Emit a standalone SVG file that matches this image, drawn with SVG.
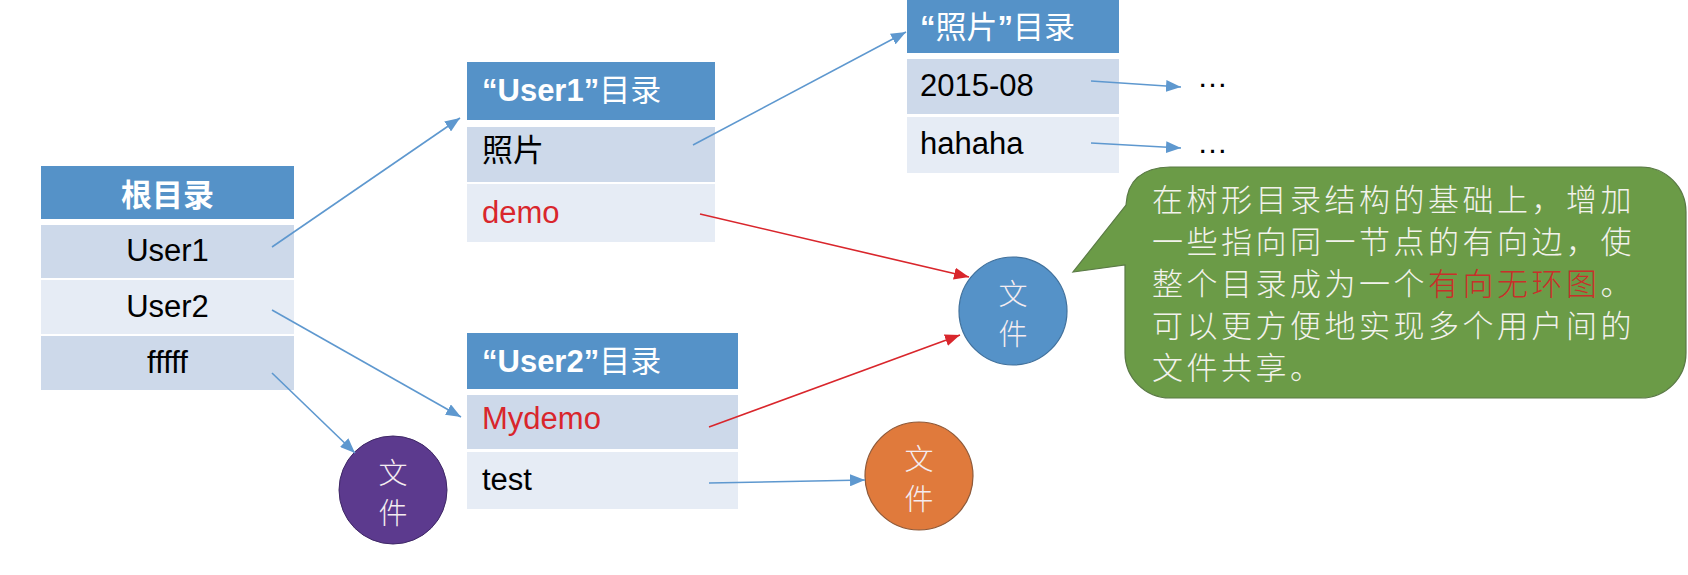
<svg xmlns="http://www.w3.org/2000/svg" width="1688" height="575" viewBox="0 0 1688 575">
<style>
.hd{fill:#5592C8}
.rd{fill:#CDD9EA}
.rl{fill:#E6ECF5}
.ht{font-family:"Liberation Sans","Noto Sans CJK SC",sans-serif;font-weight:bold;font-size:31px;fill:#FFFFFF}
.cj{font-family:"Noto Sans CJK SC",sans-serif;font-weight:normal}
.rt{font-family:"Liberation Sans","Noto Sans CJK SC",sans-serif;font-size:31px;fill:#000000}
.red{fill:#D9262C}
.ct{font-family:"Noto Sans CJK SC",sans-serif;font-size:29px;fill:#F4ECF0;text-anchor:middle;font-weight:300}
.bl{stroke:#5E98CF;stroke-width:1.6;fill:none}
.rl2{stroke:#D9262C;stroke-width:1.6;fill:none}
.callt{font-family:"Noto Sans CJK SC",sans-serif;font-size:31px;letter-spacing:3.5px;fill:#F2F2EC;font-weight:300}
</style>
<defs>
<marker id="ab" markerUnits="userSpaceOnUse" markerWidth="16" markerHeight="12" refX="15" refY="6" orient="auto">
<path d="M0,0 L15,6 L0,12 Z" fill="#5E98CF"/>
</marker>
<marker id="ar" markerUnits="userSpaceOnUse" markerWidth="16" markerHeight="12" refX="15" refY="6" orient="auto">
<path d="M0,0 L15,6 L0,12 Z" fill="#D9262C"/>
</marker>
</defs>
<rect width="1688" height="575" fill="#FFFFFF"/>

<g id="root">
<rect class="hd" x="41" y="166" width="253" height="53"/>
<rect class="rd" x="41" y="225" width="253" height="53"/>
<rect class="rl" x="41" y="280" width="253" height="54"/>
<rect class="rd" x="41" y="336" width="253" height="54"/>
<text class="ht" x="167.5" y="206" text-anchor="middle" font-size="33">根目录</text>
<text class="rt" x="167.5" y="261" text-anchor="middle" font-size="30">User1</text>
<text class="rt" x="167.5" y="317" text-anchor="middle" font-size="30">User2</text>
<text class="rt" x="167.5" y="373" text-anchor="middle" font-size="30">fffff</text>
</g>

<g id="user1">
<rect class="hd" x="467" y="62" width="248" height="58"/>
<rect class="rd" x="467" y="127" width="248" height="55"/>
<rect class="rl" x="467" y="184" width="248" height="58"/>
<text class="ht" x="482" y="101">“User1”<tspan class="cj">目录</tspan></text>
<text class="rt" x="482" y="161">照片</text>
<text class="rt red" x="482" y="223">demo</text>
</g>

<g id="user2">
<rect class="hd" x="467" y="333" width="271" height="56"/>
<rect class="rd" x="467" y="395" width="271" height="54"/>
<rect class="rl" x="467" y="452" width="271" height="57"/>
<text class="ht" x="482" y="372">“User2”<tspan class="cj">目录</tspan></text>
<text class="rt red" x="482" y="429">Mydemo</text>
<text class="rt" x="482" y="490">test</text>
</g>

<g id="photos">
<rect class="hd" x="907" y="0" width="212" height="53"/>
<rect class="rd" x="907" y="59" width="212" height="55"/>
<rect class="rl" x="907" y="117" width="212" height="56"/>
<text class="ht" x="920" y="38">“<tspan class="cj">照片</tspan>”<tspan class="cj">目录</tspan></text>
<text class="rt" x="920" y="96">2015-08</text>
<text class="rt" x="920" y="154">hahaha</text>
</g>

<g id="dots1"><text class="rt" x="1197" y="87" font-size="27">…</text></g>
<g id="dots2"><text class="rt" x="1197" y="153" font-size="27">…</text></g>

<g id="file-purple">
<circle cx="393" cy="490" r="54" fill="#5C3A8E" stroke="#3F2866" stroke-width="1"/>
<text class="ct" x="393" y="484">文</text>
<text class="ct" x="393" y="524">件</text>
</g>

<g id="file-blue">
<circle cx="1013" cy="311" r="54" fill="#5592C8" stroke="#41719C" stroke-width="1.2"/>
<text class="ct" x="1013" y="305">文</text>
<text class="ct" x="1013" y="345">件</text>
</g>

<g id="file-orange">
<circle cx="919" cy="476" r="54" fill="#E07A3C" stroke="#8E5A3A" stroke-width="1.2"/>
<text class="ct" x="919" y="470">文</text>
<text class="ct" x="919" y="510">件</text>
</g>

<g id="callout">
<path d="M1170,167 H1641 A45,45 0 0 1 1686,212 V353 A45,45 0 0 1 1641,398 H1170 A45,45 0 0 1 1125,353 V265 L1073,272 L1126,205 Q1128,168 1170,167 Z" fill="#6B9B47" stroke="#5A7A45" stroke-width="1.2"/>
<text class="callt" x="1152" y="211">在树形目录结构的基础上，增加</text>
<text class="callt" x="1152" y="253">一些指向同一节点的有向边，使</text>
<text class="callt" x="1152" y="295">整个目录成为一个<tspan fill="#C8302A">有向无环图</tspan>。</text>
<text class="callt" x="1152" y="337">可以更方便地实现多个用户间的</text>
<text class="callt" x="1152" y="379">文件共享。</text>
</g>

<g id="connectors">
<line class="bl" x1="272" y1="247" x2="460" y2="118" marker-end="url(#ab)"/>
<line class="bl" x1="272" y1="310" x2="461" y2="417" marker-end="url(#ab)"/>
<line class="bl" x1="272" y1="373" x2="355" y2="453" marker-end="url(#ab)"/>
<line class="bl" x1="693" y1="145" x2="906" y2="32" marker-end="url(#ab)"/>
<line class="bl" x1="1091" y1="81" x2="1181" y2="87" marker-end="url(#ab)"/>
<line class="bl" x1="1091" y1="143" x2="1181" y2="148" marker-end="url(#ab)"/>
<line class="bl" x1="709" y1="483" x2="865" y2="480" marker-end="url(#ab)"/>
<line class="rl2" x1="700" y1="214" x2="969" y2="277" marker-end="url(#ar)"/>
<line class="rl2" x1="709" y1="427" x2="960" y2="335" marker-end="url(#ar)"/>
</g>
</svg>
